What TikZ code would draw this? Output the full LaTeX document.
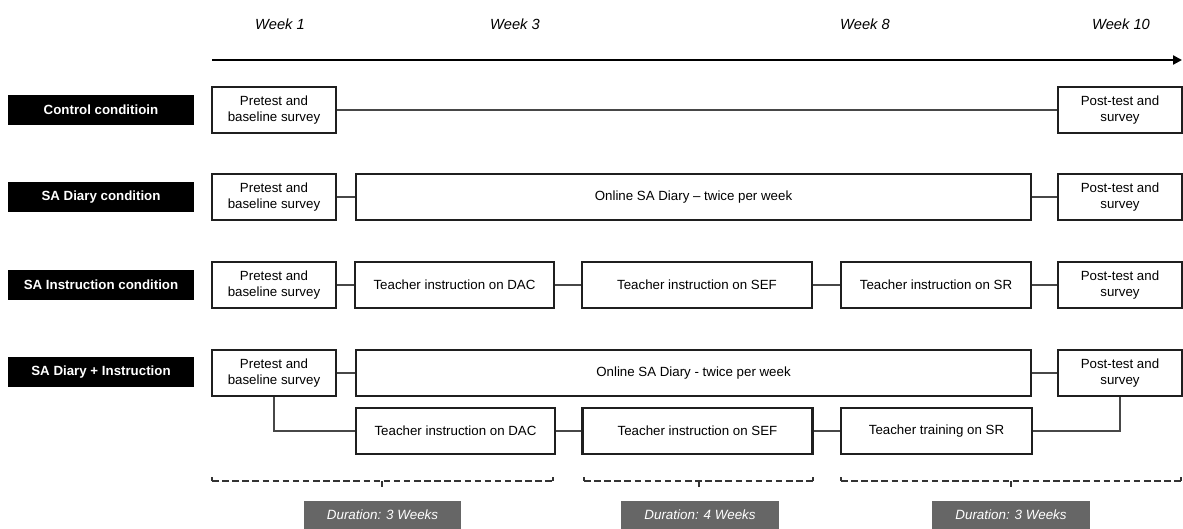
\documentclass[tikz,border=0pt]{standalone}
\usepackage{fontspec}
\setmainfont{Liberation Sans}
\usetikzlibrary{arrows.meta}
\begin{document}
\begin{tikzpicture}[x=1pt,y=-1pt,
  box/.style={draw=black!88, line width=2.1pt, fill=white, inner sep=0pt, align=center,
    minimum height=46pt, font=\fontsize{13.3}{16}\selectfont},
  cond/.style={fill=black, text=white, minimum width=186pt, minimum height=30pt, inner sep=0pt,
    font=\fontsize{13.3}{16}\selectfont\bfseries},
  week/.style={inner sep=0pt, font=\fontsize{14.7}{17}\selectfont\itshape},
  link/.style={draw=black!72, line width=1.3pt},
  axis/.style={draw=black, line width=2.8pt, -{Triangle[length=9pt,width=9pt]}},
  brace/.style={draw=black!80, line width=1.5pt, dash pattern=on 6.5pt off 3.6pt},
  tick/.style={draw=black!80, line width=1.5pt},
  dur/.style={fill=black!60, text=white, minimum width=157pt, minimum height=28pt, inner sep=0pt,
    font=\fontsize{13.4}{16}\selectfont\itshape}]
\useasboundingbox (0,0) rectangle (1183,528);

% week labels
\node[week] (w1) at (280,24) {Week 1};
\node[week] (w3) at (515,24) {Week 3};
\node[week] (w8) at (865,24) {Week 8};
\node[week] (w10) at (1121,24) {Week 10};

% time axis
\coordinate (ax0) at (212,60);
\coordinate (ax1) at (1182,60);
\draw[axis] (ax0) -- (ax1);

% condition labels
\node[cond] (c1) at (101,110) {Control conditioin};
\node[cond] (c2) at (101,197) {SA Diary condition};
\node[cond] (c3) at (101,285) {SA Instruction condition};
\node[cond] (c4) at (101,372) {SA Diary + Instruction};

% row 1
\node[box, minimum width=124pt] (pre1) at (274,110) {Pretest and\\baseline survey};
\node[box, minimum width=124pt] (post1) at (1120,110) {Post-test and\\survey};
\draw[link] (pre1.east) -- (post1.west);

% row 2
\node[box, minimum width=124pt] (pre2) at (274,197) {Pretest and\\baseline survey};
\node[box, minimum width=675pt] (dia2) at (693.5,197) {Online SA Diary – twice per week};
\node[box, minimum width=124pt] (post2) at (1120,197) {Post-test and\\survey};
\draw[link] (pre2.east) -- (dia2.west);
\draw[link] (dia2.east) -- (post2.west);

% row 3
\node[box, minimum width=124pt] (pre3) at (274,285) {Pretest and\\baseline survey};
\node[box, minimum width=199pt] (dac3) at (454.5,285) {Teacher instruction on DAC};
\node[box, minimum width=230pt] (sef3) at (697,285) {Teacher instruction on SEF};
\node[box, minimum width=190pt] (sr3) at (936,285) {Teacher instruction on SR};
\node[box, minimum width=124pt] (post3) at (1120,285) {Post-test and\\survey};
\draw[link] (pre3.east) -- (dac3.west);
\draw[link] (dac3.east) -- (sef3.west);
\draw[link] (sef3.east) -- (sr3.west);
\draw[link] (sr3.east) -- (post3.west);

% row 4
\node[box, minimum width=124pt] (pre4) at (274,373) {Pretest and\\baseline survey};
\node[box, minimum width=675pt] (dia4) at (693.5,373) {Online SA Diary - twice per week};
\node[box, minimum width=124pt] (post4) at (1120,373) {Post-test and\\survey};
\node[box, minimum width=199pt] (dac4) at (455.5,431) {Teacher instruction on DAC};
\node[box, minimum width=230pt] (sef4) at (697.5,431) {Teacher instruction on SEF};
\node[box, minimum width=191pt] (sr4) at (936.5,431) {Teacher training on SR};
\draw[link] (pre4.east) -- (dia4.west);
\draw[link] (dia4.east) -- (post4.west);
\draw[link] (pre4.south) |- (dac4.west);
\draw[link] (dac4.east) -- (sef4.west);
\draw[link] (sef4.east) -- (sr4.west);
\draw[link] (post4.south) |- (sr4.east);

% braces
\coordinate (b1a) at (212,481); \coordinate (b1m) at (382,481); \coordinate (b1b) at (553,481);
\coordinate (b2a) at (584,481); \coordinate (b2m) at (699,481); \coordinate (b2b) at (813,481);
\coordinate (b3a) at (841,481); \coordinate (b3m) at (1011,481); \coordinate (b3b) at (1181,481);
\foreach \a/\m/\b in {b1a/b1m/b1b, b2a/b2m/b2b, b3a/b3m/b3b}{
  \draw[brace] (\a) -- (\b);
  \draw[tick] (\a) -- ++(0,-4.5);
  \draw[tick] (\b) -- ++(0,-4.5);
  \draw[tick] (\m) -- ++(0,6);
}

% durations
\node[dur] (d1) at (382.5,515) {Duration: 3 Weeks};
\node[dur, minimum width=158pt] (d2) at (700,515) {Duration: 4 Weeks};
\node[dur, minimum width=158pt] (d3) at (1011,515) {Duration: 3 Weeks};
\end{tikzpicture}
\end{document}
